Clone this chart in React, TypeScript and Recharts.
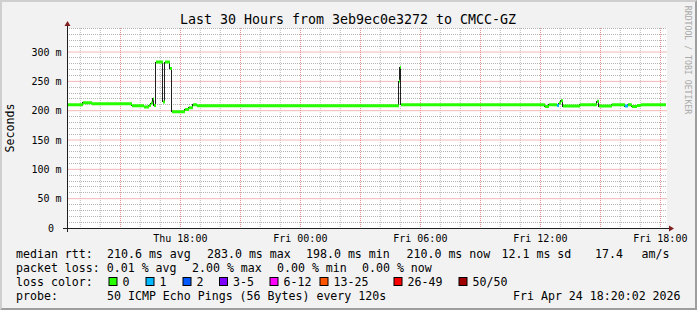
import React from 'react';
import { ComposedChart, Line, XAxis, YAxis, CartesianGrid } from 'recharts';

// ---- data (clock hours since Thu 00:00, median rtt in ms, loss count) ----
const segStart = [12.33, 13.13, 13.58, 15.58, 16.18, 16.43, 16.53, 16.63, 16.68, 16.78, 17.13, 17.23, 17.48, 17.58, 18.23, 18.43, 18.63, 18.83, 28.93, 28.98, 29.03, 36.23, 36.43, 36.83, 36.93, 37.03, 37.13, 37.98, 38.83, 38.93, 39.58, 40.23, 40.38, 40.58, 40.83, 41.03];
const segValue = [210, 213.5, 212, 208.5, 206.5, 209, 213, 220, 209, 283, 215, 283, 272, 198, 202, 205, 210, 208.5, 250, 274, 210, 207, 210, 209, 213, 217, 208, 210, 216, 208, 210, 208, 210, 207, 209, 210];
const segLoss = [0, 0, 0, 0, 0, 0, 0, 0, 0, 0, 0, 0, 0, 0, 0, 0, 0, 0, 0, 0, 0, 0, 0, 1, 0, 0, 0, 0, 0, 0, 0, 1, 0, 0, 0, 0];
const endHour = 42.28;

const domainStart = 12 + 20 / 60;
const domainEnd = domainStart + 30;
const yMax = 341;

const yTicks = [0, 50, 100, 150, 200, 250, 300];
const yTickLabels = ['0', '50 m', '100 m', '150 m', '200 m', '250 m', '300 m'];
const xTickHours = [18, 24, 30, 36, 42];
const xTickLabels = ['Thu 18:00', 'Fri 00:00', 'Fri 06:00', 'Fri 12:00', 'Fri 18:00'];

const title = 'Last 30 Hours from 3eb9ec0e3272 to CMCC-GZ';
const yLabel = 'Seconds';
const watermark = 'RRDTOOL / TOBI OETIKER';

const rttLabel = 'median rtt:';
const rttItems = ['210.6 ms avg', '283.0 ms max', '198.0 ms min', '210.0 ms now', '12.1 ms sd', '17.4', 'am/s'];
const rttX = [107, 207, 306, 406.5, 501.5, 595, 641.5];
const lossItems = ['packet loss: 0.01 % avg', '2.00 % max', '0.00 % min', '0.00 % now'];
const lossX = [16, 192, 277, 362];
const colorLabel = 'loss color:';
const lossColorNames = ['0', '1', '2', '3-5', '6-12', '13-25', '26-49', '50/50'];
const lossColors = ['#26ff00', '#00b8ff', '#0059ff', '#7e00ff', '#ff00ff', '#ff5500', '#ff0000', '#a10000'];
const lossBoxX = [108.5, 145.5, 182.5, 219, 269.5, 319.5, 393.5, 458.5];
const probeLabel = 'probe:';
const probeText = '50 ICMP Echo Pings (56 Bytes) every 120s';
const dateText = 'Fri Apr 24 18:20:02 2026';

// grid positions
const minorY: number[] = [];
for (let v = 10; v <= 340; v += 10) if (v % 50 !== 0) minorY.push(v);
const majorY = [50, 100, 150, 200, 250, 300];
const minorX: number[] = [];
const majorX: number[] = [];
for (let h = 13; h <= 42; h++) (h % 3 === 0 ? majorX : minorX).push(h);

// build series tables
const medianData = segStart.map((t, i) => ({ t, v: segValue[i] }));
medianData.push({ t: endHour, v: segValue[segValue.length - 1] });

function lossSegments(loss: number) {
  const out: { t: number; g: number | null }[] = [];
  segStart.forEach((s, i) => {
    if (segLoss[i] !== loss) return;
    const e = i + 1 < segStart.length ? segStart[i + 1] : endHour;
    out.push({ t: s, g: segValue[i] });
    out.push({ t: e, g: segValue[i] });
    out.push({ t: e, g: null });
  });
  return out;
}
const green = lossSegments(0);
const blue = lossSegments(1);

const MONO = '"DejaVu Sans Mono", monospace';
const W = 697;
const H = 310;
const X0 = 67;
const Y0 = 228;
const XS = 600;
const YS = 200;

const XTick = (p: any) => {
  const i = xTickHours.indexOf(p.payload?.value);
  return (
    <text x={p.x} y={241.5} textAnchor="middle" style={{ fontFamily: MONO, fontSize: 10, fill: '#000' }}>
      {i >= 0 ? xTickLabels[i] : ''}
    </text>
  );
};
const YTick = (p: any) => {
  const v = p.payload?.value;
  const i = yTicks.indexOf(v);
  return (
    <text x={v === 0 ? 54 : 61.5} y={p.y + 3.6} textAnchor="end" style={{ fontFamily: MONO, fontSize: 10, fill: '#000' }}>
      {i >= 0 ? yTickLabels[i] : ''}
    </text>
  );
};

export default function App() {
  const gridMinor = '#b4b4b4';
  const gridMajor = '#eb9191';
  const legendFont = { fontFamily: MONO, fontSize: 11.6, fill: '#000' } as const;
  return (
    <div style={{ position: 'absolute', left: 0, top: 0, width: W, height: H }}>
      <svg width={W} height={H} style={{ position: 'absolute', left: 0, top: 0 }}>
        <rect x={0} y={0} width={W} height={H} fill="#f2f2f2" />
        <polygon points={`0,0 ${W},0 ${W - 2},2 2,2 2,${H - 2} 0,${H}`} fill="#cfcfcf" />
        <polygon points={`${W},${H} 0,${H} 2,${H - 2} ${W - 2},${H - 2} ${W - 2},2 ${W},0`} fill="#9e9e9e" />
        <text x={348} y={24} textAnchor="middle" style={{ fontFamily: MONO, fontSize: 13.3, fill: '#000' }}>{title}</text>
        <text x={0} y={0} transform="translate(10,128) rotate(-90)" textAnchor="middle" dominantBaseline="central" style={{ fontFamily: MONO, fontSize: 11.6, fill: '#000' }}>{yLabel}</text>
        <text x={0} y={0} transform="translate(688,60) rotate(90)" textAnchor="middle" dominantBaseline="central" style={{ fontFamily: MONO, fontSize: 8.2, fill: '#a9a9a9' }}>{watermark}</text>
        <text x={16} y={258} style={legendFont}>{rttLabel}</text>
        {rttItems.map((s, i) => <text key={'r' + i} x={rttX[i]} y={258} style={legendFont}>{s}</text>)}
        {lossItems.map((s, i) => <text key={'l' + i} x={lossX[i]} y={272} style={legendFont}>{s}</text>)}
        <text x={16} y={286} style={legendFont}>{colorLabel}</text>
        {lossColorNames.map((s, i) => (
          <g key={'c' + i}>
            <rect x={lossBoxX[i] + 0.5} y={277.5} width={8} height={8} fill={lossColors[i]} stroke="#000" strokeWidth={1} />
            <text x={lossBoxX[i] + 14} y={286} style={legendFont}>{s}</text>
          </g>
        ))}
        <text x={16} y={299.5} style={legendFont}>{probeLabel}</text>
        <text x={107} y={299.5} style={legendFont}>{probeText}</text>
        <text x={513} y={299.5} style={legendFont}>{dateText}</text>
      </svg>
      <div style={{ position: 'absolute', left: 0, top: 0 }}>
        <ComposedChart width={W} height={H} margin={{ top: Y0 - YS, right: W - X0 - XS, bottom: 0, left: 0 }}>
          <XAxis
            dataKey="t"
            type="number"
            domain={[domainStart, domainEnd]}
            allowDataOverflow
            ticks={xTickHours}
            height={H - Y0}
            axisLine={false}
            tickLine={false}
            interval={0}
            tick={<XTick />}
          />
          <YAxis
            type="number"
            domain={[0, yMax]}
            allowDataOverflow
            ticks={yTicks}
            width={X0}
            axisLine={false}
            tickLine={false}
            interval={0}
            tick={<YTick />}
          />
          <CartesianGrid fill="#ffffff" horizontal vertical={false} horizontalValues={minorY} stroke={gridMinor} strokeDasharray="1 1" shapeRendering="crispEdges" />
          <CartesianGrid horizontal={false} vertical verticalValues={minorX} stroke="#bcbcbc" strokeDasharray="1 1" />
          <CartesianGrid horizontal vertical={false} horizontalValues={majorY} stroke="#f2b8b8" strokeWidth={1} />
          <CartesianGrid horizontal={false} vertical verticalValues={majorX} stroke={gridMajor} strokeDasharray="1 1" shapeRendering="crispEdges" />
          <Line data={medianData} dataKey="v" type="stepAfter" stroke="#202020" strokeWidth={1} dot={false} activeDot={false} isAnimationActive={false} shapeRendering="crispEdges" />
          <Line data={green} dataKey="g" type="linear" stroke="#26ff00" strokeWidth={3} dot={false} activeDot={false} connectNulls={false} isAnimationActive={false} />
          <Line data={blue} dataKey="g" type="linear" stroke="#00b8ff" strokeWidth={3} dot={false} activeDot={false} connectNulls={false} isAnimationActive={false} />
        </ComposedChart>
      </div>
      <svg width={W} height={H} style={{ position: 'absolute', left: 0, top: 0, pointerEvents: 'none' }}>
        <line x1={X0 - 4} y1={Y0 + 0.5} x2={X0 + XS + 4} y2={Y0 + 0.5} stroke="#1f1f1f" strokeWidth={1} />
        <line x1={X0 + 0.5} y1={Y0 + 4} x2={X0 + 0.5} y2={Y0 - YS - 4} stroke="#1f1f1f" strokeWidth={1} />
        <polygon points={`${X0 + XS + 2},${Y0 + 3.5} ${X0 + XS + 2},${Y0 - 2.5} ${X0 + XS + 7},${Y0 + 0.5}`} fill="#801f1f" />
        <polygon points={`${X0 - 2.5},${Y0 - YS - 2} ${X0 + 3.5},${Y0 - YS - 2} ${X0 + 0.5},${Y0 - YS - 7}`} fill="#801f1f" />
      </svg>
    </div>
  );
}
